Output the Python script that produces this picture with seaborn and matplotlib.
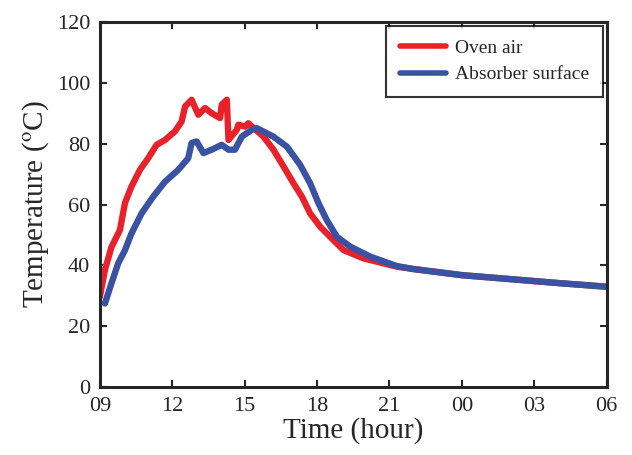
import pandas as pd
import seaborn as sns
import matplotlib.pyplot as plt

# Time measured in hours after 09:00
oven_t = [0.0, 0.21, 0.48, 0.83, 1.04, 1.31, 1.66, 2.0, 2.35, 2.7, 3.11, 3.39, 3.53,
          3.8, 4.08, 4.36, 4.63, 4.98, 5.05, 5.26, 5.33, 5.67, 5.74, 6.02, 6.15,
          6.78, 7.19, 7.61, 8.02, 8.37, 8.71, 9.13, 9.54, 10.1, 10.93, 12.3,
          13, 15, 17, 19, 21]
oven_temp = [29.7, 38.5, 46, 51.6, 60.5, 65.9, 71.4, 75.2, 79.6, 81.2, 84, 87.3, 92.2,
             94.4, 89.5, 91.7, 90, 88.4, 92.8, 94.4, 81.2, 84.5, 86.2, 85.6, 86.7,
             82.3, 78, 72.5, 67, 62.6, 57.1, 52.7, 49.4, 45, 42.3, 39.6,
             38.8, 36.8, 35.5, 34.2, 33]

abs_t = [0.21, 0.48, 0.76, 1.04, 1.31, 1.73, 2.21, 2.7, 3.25, 3.66, 3.8, 4.01, 4.29,
         4.63, 5.05, 5.33, 5.6, 5.88, 6.29, 6.5, 7.19, 7.75, 8.3, 8.71, 9.06, 9.4,
         9.82, 10.37, 11.2, 12.3, 13, 15, 17, 19, 21]
abs_temp = [27.5, 34.1, 40.7, 45, 50.5, 57.1, 62.6, 67.5, 71.4, 75.2, 80.2, 80.7, 76.9,
            78, 79.6, 78, 78, 82.3, 84.5, 85.1, 82.3, 79, 73, 67, 60.4, 54.9,
            49.4, 46.2, 42.9, 39.8, 38.8, 36.8, 35.5, 34.2, 33]

tick_pos = [0, 3, 6, 9, 12, 15, 18, 21]
tick_labels = ["09", "12", "15", "18", "21", "00", "03", "06"]

df = pd.concat([
    pd.DataFrame({"time": oven_t, "temp": oven_temp, "series": "Oven air"}),
    pd.DataFrame({"time": abs_t, "temp": abs_temp, "series": "Absorber surface"}),
])

sns.set_style("ticks")
plt.rcParams["font.family"] = ["Liberation Serif", "DejaVu Serif"]
plt.rcParams["mathtext.fontset"] = "stix"

fig = plt.figure(figsize=(6.32, 4.55), dpi=100)
ax = fig.add_axes([0.158, 0.149, 0.802, 0.803])

sns.lineplot(data=df, x="time", y="temp", hue="series", sort=False,
             palette={"Oven air": "#E8212B", "Absorber surface": "#3A52A3"},
             linewidth=4.6, ax=ax)

ax.set_xlim(0, 21)
ax.set_ylim(0, 120)
ax.set_xticks(tick_pos)
ax.set_xticklabels(tick_labels)
ax.set_yticks(range(0, 121, 20))
ax.tick_params(direction="in", top=True, right=True, labelsize=16,
               width=1.5, length=5, pad=7)
for s in ax.spines.values():
    s.set_linewidth(2.2)
ax.set_xlabel("Time (hour)", fontsize=21, labelpad=1)
ax.set_ylabel("Temperature ($^{\\rm o}$C)", fontsize=21, labelpad=4)

leg = ax.legend(loc="upper right", fontsize=14, frameon=True, fancybox=False,
                edgecolor="black", handlelength=2.4, handletextpad=0.45,
                borderaxespad=0.2, labelspacing=0.45, borderpad=0.7)
leg.get_frame().set_linewidth(1.5)
for h in leg.get_lines():
    h.set_linewidth(4)

fig.savefig("out.png", dpi=100)
